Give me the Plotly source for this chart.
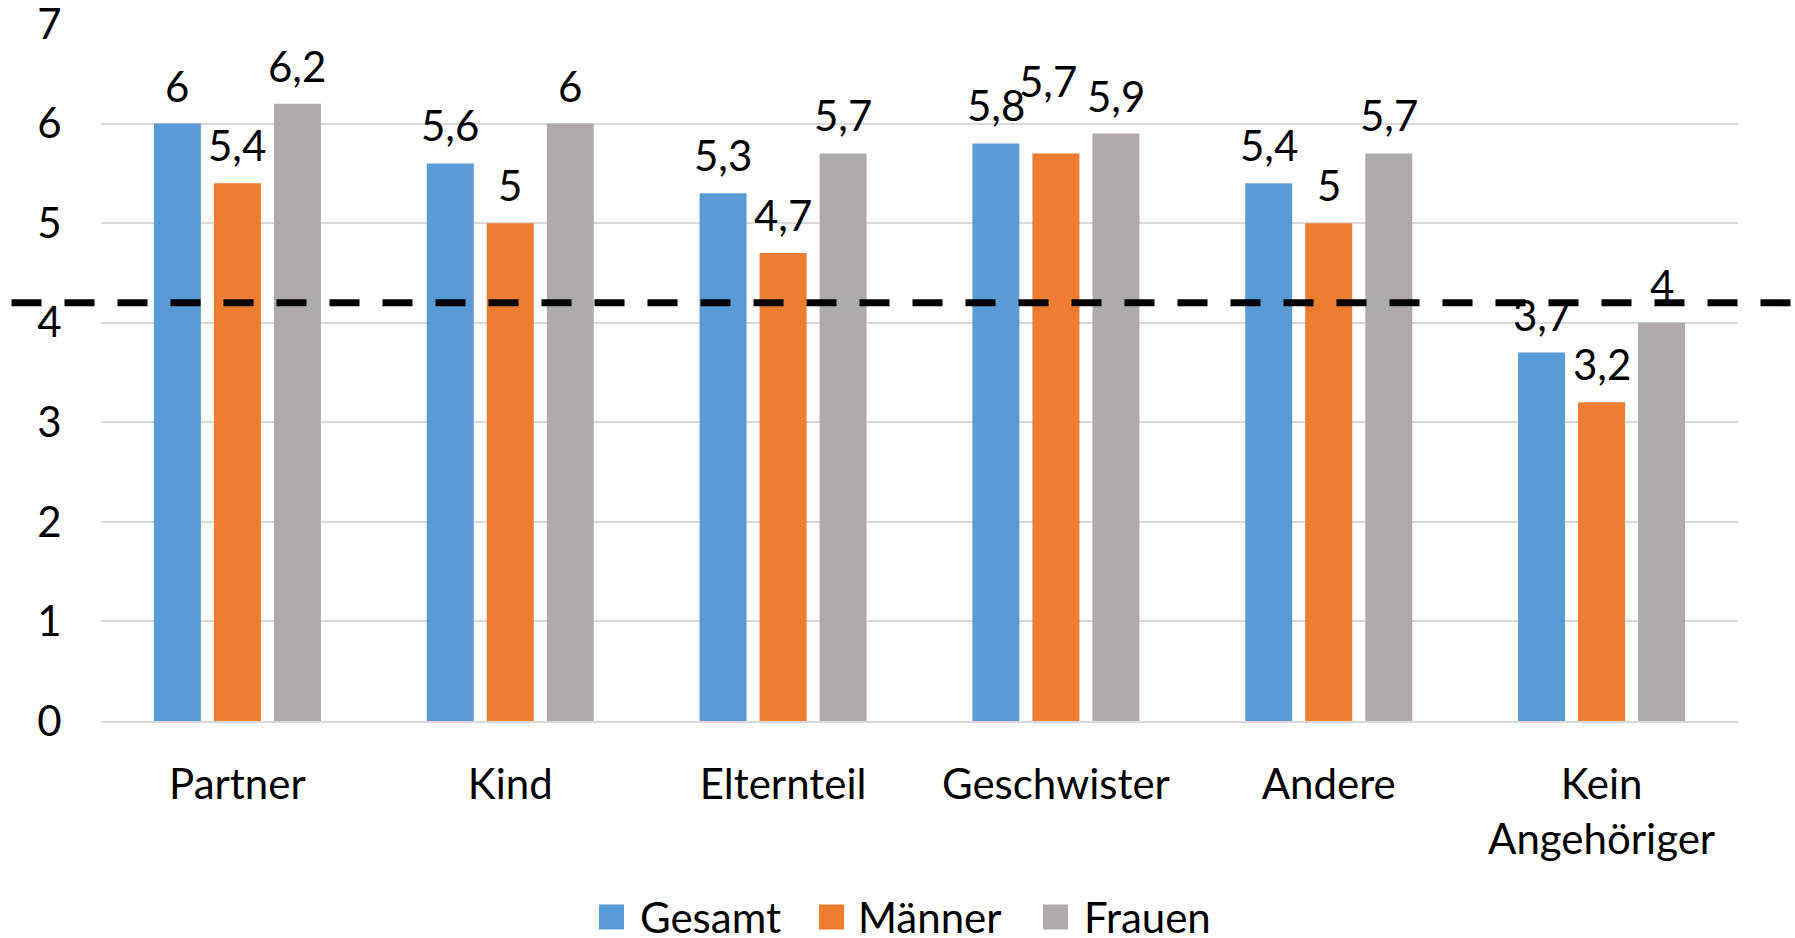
import plotly.graph_objects as go

categories = ["Partner", "Kind", "Elternteil", "Geschwister", "Andere", "Kein<br>Angehöriger"]
series_names = ["Gesamt", "Männer", "Frauen"]
gesamt = [6.0, 5.6, 5.3, 5.8, 5.4, 3.7]
maenner = [5.4, 5.0, 4.7, 5.7, 5.0, 3.2]
frauen = [6.2, 6.0, 5.7, 5.9, 5.7, 4.0]
reference_value = 4.2
y_ticks = [0, 1, 2, 3, 4, 5, 6, 7]

series_values = [gesamt, maenner, frauen]
colors = ["#5B9BD5", "#ED7D31", "#AFABAB"]
FONT = "Lato"
FS = 42

W, H = 1795, 938
# plot area in page pixels
PL, PR, PT, PB = 101, 1738, 24, 721
ML, MT = PL, PT
MR, MB = W - PR, H - PB
PW, PH = PR - PL, PB - PT

def px_x(p):
    return (p - PL) / PW

def px_y(p):
    return (PB - p) / PH

def fmt(v):
    s = ("%.1f" % v).rstrip("0").rstrip(".")
    return s.replace(".", ",")

fig = go.Figure()
for name, vals, col in zip(series_names, series_values, colors):
    fig.add_trace(go.Bar(x=categories, y=vals, name=name, marker_color=col,
                         marker_line_width=0, showlegend=False))

bargap = 0.34
slot = (1 - bargap) / 3
# label nudged to avoid overlap (category index, series index): (dx px, dy px)
label_nudge = {(3, 1): (-8, 34)}
annotations = []
for j, vals in enumerate(series_values):
    for i, v in enumerate(vals):
        dx, dy = label_nudge.get((i, j), (0, 0))
        annotations.append(dict(x=i + (j - 1) * slot, y=v, xref="x", yref="y",
                                text=fmt(v), showarrow=False, yanchor="middle",
                                xshift=dx, yshift=38 + dy,
                                font=dict(family=FONT, size=FS, color="#000")))

# legend drawn manually (large square swatches)
sq = 25
leg_sq_x = [599, 819, 1043]
leg_txt_x = [638, 856, 1082]
leg_cy = 917
shapes = []
for name, col, sx, tx in zip(series_names, colors, leg_sq_x, leg_txt_x):
    shapes.append(dict(type="rect", xref="paper", yref="paper",
                       x0=px_x(sx), x1=px_x(sx + sq), y0=px_y(leg_cy + sq / 2), y1=px_y(leg_cy - sq / 2),
                       fillcolor=col, line_width=0))
    annotations.append(dict(x=px_x(tx), y=px_y(leg_cy), xref="paper", yref="paper",
                            text=name, showarrow=False, xanchor="left", yanchor="middle",
                            font=dict(family=FONT, size=FS, color="#000")))

shapes.append(dict(type="line", xref="paper", yref="y", x0=px_x(11.5), x1=px_x(1800),
                   y0=reference_value, y1=reference_value,
                   line=dict(color="#000", width=7, dash="30px,23px"), layer="above"))

fig.update_layout(
    width=W, height=H,
    margin=dict(l=ML, r=MR, t=MT, b=MB, autoexpand=False),
    paper_bgcolor="white", plot_bgcolor="white",
    barmode="group", bargap=bargap, bargroupgap=0.217,
    font=dict(family=FONT, size=FS, color="#000"),
    showlegend=False,
    shapes=shapes, annotations=annotations,
)
fig.update_yaxes(range=[0, 7], tickvals=y_ticks, showgrid=True, gridcolor="#D9D9D9",
                 gridwidth=2, zeroline=False, ticks="outside", ticklen=30,
                 tickcolor="rgba(0,0,0,0)", ticklabeloverflow="allow",
                 tickfont=dict(family=FONT, size=FS, color="#000"))
fig.update_xaxes(showline=True, linecolor="#D9D9D9", linewidth=2, ticks="outside",
                 ticklen=26, tickcolor="rgba(0,0,0,0)",
                 tickfont=dict(family=FONT, size=FS, color="#000"))

fig.write_html("out.html", config={"displayModeBar": False},
               post_script="document.body.style.margin='0';document.body.style.overflow='hidden';")
